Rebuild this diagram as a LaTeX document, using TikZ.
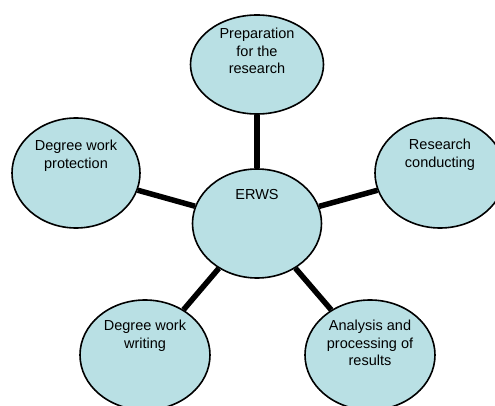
\documentclass[tikz,border=0pt]{standalone}
\usepackage{fontspec}
\setmainfont{Liberation Sans}
\usetikzlibrary{shapes.geometric}
\definecolor{bubblefill}{RGB}{185,224,228}

\begin{document}
\begin{tikzpicture}[x=1pt,y=-1pt]
    \tikzstyle{bubble}=[ellipse,draw=black,line width=1.6pt,fill=bubblefill,inner sep=0pt]
    \tikzstyle{caption}=[anchor=north,align=center,inner sep=0pt,font=\fontsize{14.5}{17.5}\selectfont]
    \useasboundingbox (0,0) rectangle (495,406);

    \foreach \name/\x/\y/\w/\h in {erws/257/223.5/129/109, prep/257/64.5/133/99, res/440/173/130/110,
                                   anal/370/355/130/110, writ/145/355/130/110, prot/76/173/128/110}
            \node[bubble,minimum width=\w,minimum height=\h] (B-\name) at (\x,\y) {};

        \foreach \name/\x/\y/\txt in {erws/257/189/{ERWS}, prep/257/28/{Preparation\\for the\\research},
                                      res/440/139/{Research\\conducting}, anal/370/320/{Analysis and\\processing of\\results},
                                      writ/145/320/{Degree work\\writing}, prot/76/140/{Degree work\\protection}}
            \node[caption] (T-\name) at (\x,\y) {\txt};

        \foreach \to in {prep,res,anal,writ,prot}
            \draw[line width=5.5pt] (B-erws) -- (B-\to);
\end{tikzpicture}
\end{document}
